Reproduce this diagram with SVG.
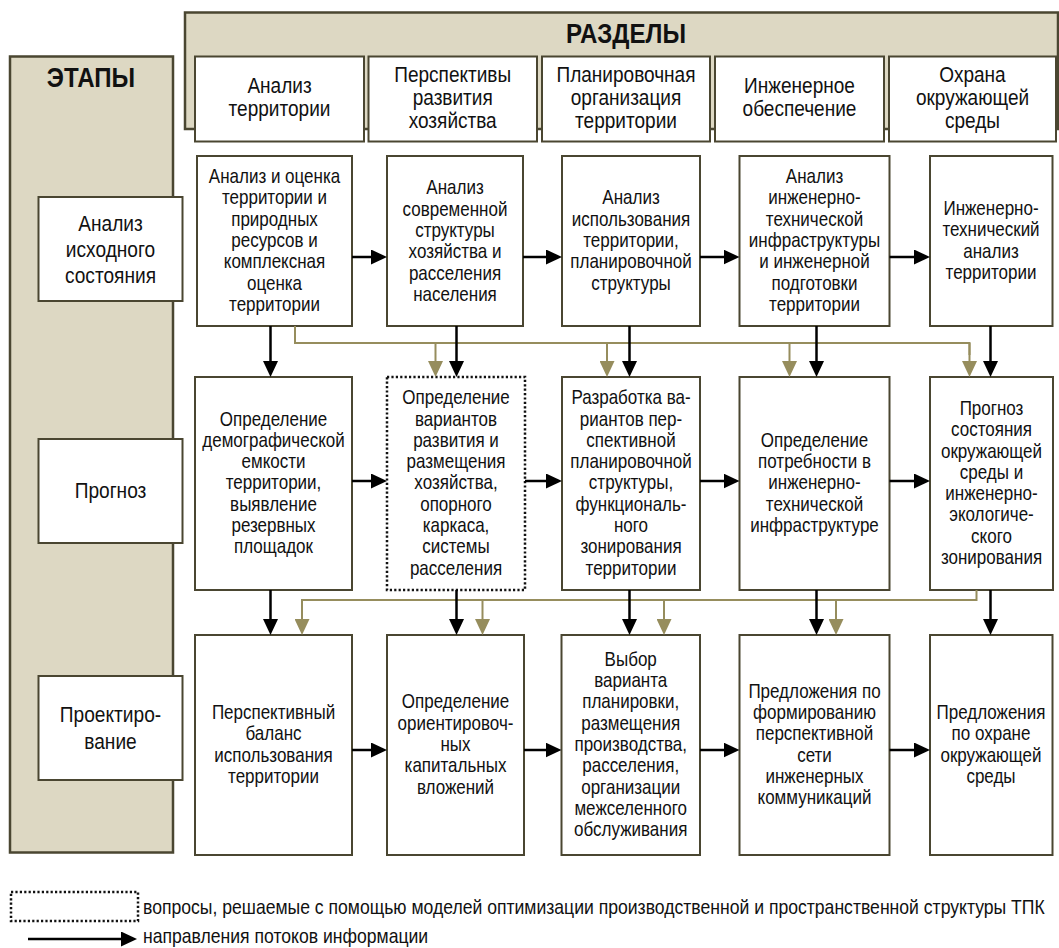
<svg xmlns="http://www.w3.org/2000/svg" width="1059" height="948" viewBox="0 0 1059 948">
<style>
.panel{fill:#ddd8c3;stroke:#4a4631;stroke-width:2.5}
.box{fill:#fff;stroke:#4a4631;stroke-width:2}
.dot{fill:#fff;stroke:#111;stroke-width:2.5;stroke-dasharray:2.2 2.2}
.t{font-family:"Liberation Sans",Arial,sans-serif;font-size:20px;text-anchor:middle;fill:#111}
.h{font-size:22.4px}
.s{font-size:22.5px}
.ttl{font-size:28px;font-weight:bold}
.lg{text-anchor:start;font-size:20.7px}
.k{stroke:#000;stroke-width:2.5;fill:none}
.o{stroke:#968d5d;stroke-width:2;fill:none}
</style>
<defs>
<marker id="ak" viewBox="0 0 16 15" refX="8" refY="7.5" markerWidth="16" markerHeight="15" markerUnits="userSpaceOnUse" orient="auto"><path d="M0,0 L16,7.5 L0,15 Z" fill="#000"/></marker>
<marker id="ao" viewBox="0 0 16 15" refX="8" refY="7.5" markerWidth="16" markerHeight="15" markerUnits="userSpaceOnUse" orient="auto"><path d="M0,0 L16,7.5 L0,15 Z" fill="#968d5d"/></marker>
</defs>

<g id="panel-razdely">
<rect class="panel" x="185" y="12.5" width="873" height="116.5"/>
<text class="t ttl" transform="translate(626,0) scale(0.86,1)"><tspan x="0" y="43">РАЗДЕЛЫ</tspan></text>
</g>
<g id="panel-etapy">
<rect class="panel" x="10" y="56.5" width="163" height="796"/>
<text class="t ttl" transform="translate(91,0) scale(0.86,1)"><tspan x="0" y="87">ЭТАПЫ</tspan></text>
</g>

<g id="h1"><rect class="box" x="195" y="56.5" width="169" height="85"/>
<text class="t h" transform="translate(279.5,0) scale(0.85,1)"><tspan x="0" y="93.5">Анализ</tspan><tspan x="0" dy="23">территории</tspan></text></g>
<g id="h2"><rect class="box" x="368.5" y="56.5" width="168.5" height="85"/>
<text class="t h" transform="translate(452.7,0) scale(0.85,1)"><tspan x="0" y="82">Перспективы</tspan><tspan x="0" dy="23">развития</tspan><tspan x="0" dy="23">хозяйства</tspan></text></g>
<g id="h3"><rect class="box" x="542" y="56.5" width="168" height="85"/>
<text class="t h" transform="translate(626,0) scale(0.85,1)"><tspan x="0" y="82">Планировочная</tspan><tspan x="0" dy="23">организация</tspan><tspan x="0" dy="23">территории</tspan></text></g>
<g id="h4"><rect class="box" x="715" y="56.5" width="169" height="85"/>
<text class="t h" transform="translate(799.5,0) scale(0.85,1)"><tspan x="0" y="93.5">Инженерное</tspan><tspan x="0" dy="23">обеспечение</tspan></text></g>
<g id="h5"><rect class="box" x="889" y="56.5" width="167" height="85"/>
<text class="t h" transform="translate(972.5,0) scale(0.85,1)"><tspan x="0" y="82">Охрана</tspan><tspan x="0" dy="23">окружающей</tspan><tspan x="0" dy="23">среды</tspan></text></g>

<g id="s1"><rect class="box" x="38.5" y="197" width="144" height="104"/>
<text class="t s" transform="translate(110.5,0) scale(0.85,1)"><tspan x="0" y="231">Анализ</tspan><tspan x="0" dy="26">исходного</tspan><tspan x="0" dy="26">состояния</tspan></text></g>
<g id="s2"><rect class="box" x="38.5" y="439" width="144" height="104"/>
<text class="t s" transform="translate(110.5,0) scale(0.85,1)"><tspan x="0" y="498.5">Прогноз</tspan></text></g>
<g id="s3"><rect class="box" x="38.5" y="676" width="144" height="104"/>
<text class="t s" transform="translate(110.5,0) scale(0.85,1)"><tspan x="0" y="722.5">Проектиро-</tspan><tspan x="0" dy="27">вание</tspan></text></g>

<g id="a1"><rect class="box" x="197" y="156" width="155" height="170"/>
<text class="t" transform="translate(274.5,0) scale(0.85,1)"><tspan x="0" y="183.1">Анализ и оценка</tspan><tspan x="0" dy="21.3">территории и</tspan><tspan x="0" dy="21.3">природных</tspan><tspan x="0" dy="21.3">ресурсов и</tspan><tspan x="0" dy="21.3">комплексная</tspan><tspan x="0" dy="21.3">оценка</tspan><tspan x="0" dy="21.3">территории</tspan></text></g>
<g id="b1"><rect class="box" x="387" y="156" width="136" height="170"/>
<text class="t" transform="translate(455,0) scale(0.85,1)"><tspan x="0" y="194.4">Анализ</tspan><tspan x="0" dy="21.3">современной</tspan><tspan x="0" dy="21.3">структуры</tspan><tspan x="0" dy="21.3">хозяйства и</tspan><tspan x="0" dy="21.3">расселения</tspan><tspan x="0" dy="21.3">населения</tspan></text></g>
<g id="c1"><rect class="box" x="562" y="156" width="138" height="170"/>
<text class="t" transform="translate(631,0) scale(0.85,1)"><tspan x="0" y="204.4">Анализ</tspan><tspan x="0" dy="21.3">использования</tspan><tspan x="0" dy="21.3">территории,</tspan><tspan x="0" dy="21.3">планировочной</tspan><tspan x="0" dy="21.3">структуры</tspan></text></g>
<g id="d1"><rect class="box" x="739.5" y="156" width="150" height="170"/>
<text class="t" transform="translate(814.5,0) scale(0.85,1)"><tspan x="0" y="183.1">Анализ</tspan><tspan x="0" dy="21.3">инженерно-</tspan><tspan x="0" dy="21.3">технической</tspan><tspan x="0" dy="21.3">инфраструктуры</tspan><tspan x="0" dy="21.3">и инженерной</tspan><tspan x="0" dy="21.3">подготовки</tspan><tspan x="0" dy="21.3">территории</tspan></text></g>
<g id="e1"><rect class="box" x="930" y="156" width="122.5" height="170"/>
<text class="t" transform="translate(991,0) scale(0.85,1)"><tspan x="0" y="215">Инженерно-</tspan><tspan x="0" dy="21.3">технический</tspan><tspan x="0" dy="21.3">анализ</tspan><tspan x="0" dy="21.3">территории</tspan></text></g>

<g id="a2"><rect class="box" x="195" y="377" width="157" height="213"/>
<text class="t" transform="translate(273.5,0) scale(0.85,1)"><tspan x="0" y="425.6">Определение</tspan><tspan x="0" dy="21.3">демографической</tspan><tspan x="0" dy="21.3">емкости</tspan><tspan x="0" dy="21.3">территории,</tspan><tspan x="0" dy="21.3">выявление</tspan><tspan x="0" dy="21.3">резервных</tspan><tspan x="0" dy="21.3">площадок</tspan></text></g>
<g id="b2"><rect class="dot" x="387" y="377" width="138" height="213"/>
<text class="t" transform="translate(456,0) scale(0.85,1)"><tspan x="0" y="404.3">Определение</tspan><tspan x="0" dy="21.3">вариантов</tspan><tspan x="0" dy="21.3">развития и</tspan><tspan x="0" dy="21.3">размещения</tspan><tspan x="0" dy="21.3">хозяйства,</tspan><tspan x="0" dy="21.3">опорного</tspan><tspan x="0" dy="21.3">каркаса,</tspan><tspan x="0" dy="21.3">системы</tspan><tspan x="0" dy="21.3">расселения</tspan></text></g>
<g id="c2"><rect class="box" x="562" y="377" width="138" height="213"/>
<text class="t" transform="translate(631,0) scale(0.85,1)"><tspan x="0" y="404.3">Разработка ва-</tspan><tspan x="0" dy="21.3">риантов пер-</tspan><tspan x="0" dy="21.3">спективной</tspan><tspan x="0" dy="21.3">планировочной</tspan><tspan x="0" dy="21.3">структуры,</tspan><tspan x="0" dy="21.3">функциональ-</tspan><tspan x="0" dy="21.3">ного</tspan><tspan x="0" dy="21.3">зонирования</tspan><tspan x="0" dy="21.3">территории</tspan></text></g>
<g id="d2"><rect class="box" x="739.5" y="377" width="150" height="213"/>
<text class="t" transform="translate(814.5,0) scale(0.85,1)"><tspan x="0" y="446.9">Определение</tspan><tspan x="0" dy="21.3">потребности в</tspan><tspan x="0" dy="21.3">инженерно-</tspan><tspan x="0" dy="21.3">технической</tspan><tspan x="0" dy="21.3">инфраструктуре</tspan></text></g>
<g id="e2"><rect class="box" x="930" y="377" width="123" height="213"/>
<text class="t" transform="translate(991.5,0) scale(0.85,1)"><tspan x="0" y="415">Прогноз</tspan><tspan x="0" dy="21.3">состояния</tspan><tspan x="0" dy="21.3">окружающей</tspan><tspan x="0" dy="21.3">среды и</tspan><tspan x="0" dy="21.3">инженерно-</tspan><tspan x="0" dy="21.3">экологиче-</tspan><tspan x="0" dy="21.3">ского</tspan><tspan x="0" dy="21.3">зонирования</tspan></text></g>

<g id="a3"><rect class="box" x="195" y="635" width="157" height="220"/>
<text class="t" transform="translate(273.5,0) scale(0.85,1)"><tspan x="0" y="719">Перспективный</tspan><tspan x="0" dy="21.3">баланс</tspan><tspan x="0" dy="21.3">использования</tspan><tspan x="0" dy="21.3">территории</tspan></text></g>
<g id="b3"><rect class="box" x="387" y="635" width="137" height="220"/>
<text class="t" transform="translate(455.5,0) scale(0.85,1)"><tspan x="0" y="708.4">Определение</tspan><tspan x="0" dy="21.3">ориентировоч-</tspan><tspan x="0" dy="21.3">ных</tspan><tspan x="0" dy="21.3">капитальных</tspan><tspan x="0" dy="21.3">вложений</tspan></text></g>
<g id="c3"><rect class="box" x="561.5" y="635" width="138.5" height="220"/>
<text class="t" transform="translate(630.7,0) scale(0.85,1)"><tspan x="0" y="665.8">Выбор</tspan><tspan x="0" dy="21.3">варианта</tspan><tspan x="0" dy="21.3">планировки,</tspan><tspan x="0" dy="21.3">размещения</tspan><tspan x="0" dy="21.3">производства,</tspan><tspan x="0" dy="21.3">расселения,</tspan><tspan x="0" dy="21.3">организации</tspan><tspan x="0" dy="21.3">межселенного</tspan><tspan x="0" dy="21.3">обслуживания</tspan></text></g>
<g id="d3"><rect class="box" x="739.5" y="635" width="150" height="220"/>
<text class="t" transform="translate(814.5,0) scale(0.85,1)"><tspan x="0" y="697.8">Предложения по</tspan><tspan x="0" dy="21.3">формированию</tspan><tspan x="0" dy="21.3">перспективной</tspan><tspan x="0" dy="21.3">сети</tspan><tspan x="0" dy="21.3">инженерных</tspan><tspan x="0" dy="21.3">коммуникаций</tspan></text></g>
<g id="e3"><rect class="box" x="930" y="635" width="122.5" height="220"/>
<text class="t" transform="translate(991,0) scale(0.85,1)"><tspan x="0" y="719">Предложения</tspan><tspan x="0" dy="21.3">по охране</tspan><tspan x="0" dy="21.3">окружающей</tspan><tspan x="0" dy="21.3">среды</tspan></text></g>

<g id="connectors">
<path class="k" marker-end="url(#ak)" d="M352,257 H379"/>
<path class="k" marker-end="url(#ak)" d="M523,257 H554"/>
<path class="k" marker-end="url(#ak)" d="M700,257 H731.5"/>
<path class="k" marker-end="url(#ak)" d="M889.5,257 H922"/>
<path class="k" marker-end="url(#ak)" d="M352,481 H379"/>
<path class="k" marker-end="url(#ak)" d="M525,481 H554"/>
<path class="k" marker-end="url(#ak)" d="M700,481 H731.5"/>
<path class="k" marker-end="url(#ak)" d="M889.5,481 H922"/>
<path class="k" marker-end="url(#ak)" d="M352,750 H379"/>
<path class="k" marker-end="url(#ak)" d="M524,750 H553.5"/>
<path class="k" marker-end="url(#ak)" d="M700,750 H731.5"/>
<path class="k" marker-end="url(#ak)" d="M889.5,750 H922"/>

<path class="o" d="M295,326 V343 H969.5 V355"/>
<path class="o" marker-end="url(#ao)" d="M435.5,343 V369"/>
<path class="o" marker-end="url(#ao)" d="M607,343 V369"/>
<path class="o" marker-end="url(#ao)" d="M789.5,343 V369"/>
<path class="o" marker-end="url(#ao)" d="M969.5,343 V369"/>
<path class="k" marker-end="url(#ak)" d="M270.5,326 V369"/>
<path class="k" marker-end="url(#ak)" d="M456.5,326 V369"/>
<path class="k" marker-end="url(#ak)" d="M629.5,326 V369"/>
<path class="k" marker-end="url(#ak)" d="M816.5,326 V369"/>
<path class="k" marker-end="url(#ak)" d="M990.5,326 V369"/>

<path class="o" d="M976.5,590 V600 H302 V610"/>
<path class="o" marker-end="url(#ao)" d="M302,600 V627"/>
<path class="o" marker-end="url(#ao)" d="M482.5,600 V627"/>
<path class="o" marker-end="url(#ao)" d="M664,600 V627"/>
<path class="o" marker-end="url(#ao)" d="M836,600 V627"/>
<path class="k" marker-end="url(#ak)" d="M270.5,590 V627"/>
<path class="k" marker-end="url(#ak)" d="M456.5,590 V627"/>
<path class="k" marker-end="url(#ak)" d="M629.5,590 V627"/>
<path class="k" marker-end="url(#ak)" d="M816.5,590 V627"/>
<path class="k" marker-end="url(#ak)" d="M990.5,590 V627"/>
</g>

<g id="legend">
<rect class="dot" x="11" y="892" width="127" height="29"/>
<text class="t lg" transform="translate(143,0) scale(0.85,1)"><tspan x="0" y="914">вопросы, решаемые с помощью моделей оптимизации производственной и пространственной структуры ТПК</tspan></text>
<path class="k" marker-end="url(#ak)" d="M28,939 H129"/>
<text class="t lg" transform="translate(143,0) scale(0.85,1)"><tspan x="0" y="943">направления потоков информации</tspan></text>
</g>
</svg>
